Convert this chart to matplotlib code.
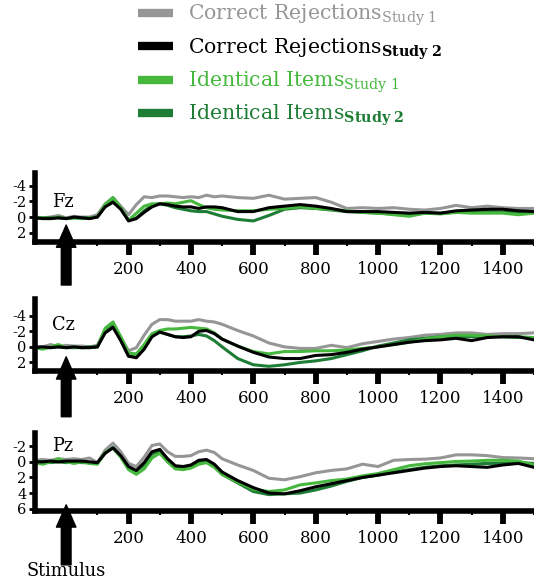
import numpy as np
import matplotlib
matplotlib.use('Agg')
import matplotlib.pyplot as plt
from matplotlib.lines import Line2D
from matplotlib.ticker import FixedLocator

plt.rcParams['font.family'] = 'DejaVu Serif'
plt.rcParams['mathtext.fontset'] = 'dejavuserif'
plt.rcParams['axes.unicode_minus'] = False

# time axis (ms)
times = [-100, -75, -50, -25, 0, 25, 50, 75, 100, 125, 150, 175, 200, 225, 250,
         275, 300, 325, 350, 375, 400, 425, 450, 475, 500,
         550, 600, 650, 700, 750, 800, 850, 900, 950, 1000, 1050, 1100, 1150,
         1200, 1250, 1300, 1350, 1400, 1450, 1500]

# Fz (microvolts, negative up)
fz_cr1 = [0.0, 0.1, 0.0, -0.2, 0.1, -0.1, 0.0, 0.0, -0.3, -1.7, -2.5, -1.4, -0.3, -1.6, -2.6,
          -2.5, -2.7, -2.7, -2.6, -2.5, -2.6, -2.5, -2.8, -2.6, -2.7,
          -2.5, -2.4, -2.8, -2.3, -2.4, -2.5, -1.9, -1.1, -1.2, -1.1, -1.2, -1.0, -0.9,
          -1.1, -1.5, -1.2, -1.4, -1.2, -1.1, -1.1]
fz_cr2 = [0.1, 0.2, 0.2, 0.1, 0.2, 0.0, 0.1, 0.2, 0.0, -1.3, -1.9, -1.0, 0.5, 0.2, -0.6,
          -1.3, -1.7, -1.6, -1.4, -1.3, -1.3, -1.1, -1.3, -1.3, -1.2,
          -0.7, -0.7, -1.2, -1.4, -1.6, -1.4, -1.1, -0.7, -0.7, -0.7, -0.6, -0.5, -0.6,
          -0.5, -0.8, -0.9, -1.0, -1.0, -0.8, -0.7]
fz_id1 = [0.1, 0.1, 0.2, 0.0, 0.2, 0.1, 0.2, 0.1, 0.0, -1.6, -2.5, -1.2, 0.4, -0.5, -1.4,
          -1.7, -1.7, -1.8, -1.7, -1.9, -2.1, -1.6, -1.2, -1.0, -0.9,
          -0.8, -0.8, -1.0, -1.1, -1.3, -1.1, -1.0, -0.8, -0.6, -0.5, -0.3, -0.1, -0.5,
          -0.4, -0.6, -0.5, -0.5, -0.5, -0.3, -0.5]
fz_id2 = [0.1, 0.1, 0.1, 0.1, 0.2, 0.1, 0.1, 0.1, 0.0, -1.5, -2.3, -1.1, 0.4, 0.1, -0.8,
          -1.5, -1.7, -1.5, -1.2, -1.0, -0.8, -0.7, -0.7, -0.4, -0.1,
          0.3, 0.5, -0.2, -1.0, -1.2, -1.1, -0.9, -0.7, -0.6, -0.5, -0.4, -0.3, -0.5,
          -0.5, -0.6, -0.6, -0.7, -0.6, -0.6, -0.6]

# Cz
cz_cr1 = [-0.1, 0.0, -0.3, 0.0, -0.2, -0.1, -0.1, 0.0, -0.2, -2.2, -3.0, -1.2, 0.5, 0.1, -1.5,
          -2.9, -3.5, -3.5, -3.3, -3.3, -3.3, -3.5, -3.3, -3.2, -2.9,
          -2.1, -1.4, -0.5, 0.0, 0.2, 0.2, -0.2, 0.1, -0.4, -0.7, -1.0, -1.2, -1.5,
          -1.6, -1.8, -1.8, -1.6, -1.7, -1.7, -1.8]
cz_cr2 = [0.1, 0.0, 0.1, 0.0, 0.1, 0.0, 0.1, 0.1, 0.0, -1.8, -2.5, -0.8, 1.2, 1.4, 0.3,
          -1.3, -1.9, -1.6, -1.3, -1.2, -1.3, -2.0, -2.1, -1.7, -1.0,
          -0.1, 0.7, 1.3, 1.5, 1.5, 1.1, 1.0, 0.7, 0.3, 0.0, -0.3, -0.6, -0.8,
          -0.9, -1.1, -0.8, -1.2, -1.3, -1.3, -0.9]
cz_id1 = [0.1, 0.3, 0.0, -0.3, 0.1, 0.0, 0.1, 0.1, 0.0, -2.4, -3.2, -1.3, 0.8, 0.9, -0.3,
          -1.7, -2.1, -2.3, -2.3, -2.4, -2.5, -2.4, -2.3, -1.8, -1.0,
          -0.1, 0.6, 0.9, 0.6, 0.6, 0.5, 0.5, 0.4, 0.2, 0.0, -0.3, -0.6, -1.0,
          -1.3, -1.5, -1.5, -1.4, -1.3, -1.3, -1.2]
cz_id2 = [0.1, 0.1, 0.1, 0.0, 0.1, 0.1, 0.1, 0.0, 0.0, -2.0, -2.7, -0.9, 1.2, 1.3, 0.2,
          -1.4, -1.9, -1.6, -1.3, -1.3, -1.4, -1.6, -1.4, -0.8, 0.0,
          1.5, 2.3, 2.5, 2.3, 2.0, 1.8, 1.5, 1.0, 0.5, -0.1, -0.5, -0.9, -1.1,
          -1.3, -1.3, -1.3, -1.3, -1.3, -1.2, -1.2]

# Pz
pz_cr1 = [-0.2, -0.3, -0.2, -0.4, -0.3, -0.4, -0.3, -0.5, 0.1, -1.5, -2.4, -1.3, 0.2, 0.6, -0.6,
          -2.1, -2.3, -1.3, -0.7, -0.7, -0.8, -1.3, -1.5, -1.2, -0.4,
          0.4, 1.1, 2.1, 2.3, 1.9, 1.4, 1.1, 0.9, 0.3, 0.6, -0.2, -0.3, -0.35,
          -0.5, -0.9, -0.9, -0.8, -0.55, -0.5, -0.4]
pz_cr2 = [0.0, 0.0, -0.1, 0.0, -0.1, -0.1, -0.1, 0.0, 0.1, -1.1, -1.8, -0.8, 0.6, 1.1, 0.1,
          -1.3, -1.6, -0.4, 0.5, 0.6, 0.4, -0.2, -0.3, 0.3, 1.3,
          2.4, 3.3, 4.0, 4.1, 3.7, 3.2, 2.8, 2.4, 2.0, 1.7, 1.4, 1.1, 0.8,
          0.6, 0.5, 0.6, 0.7, 0.4, 0.2, 0.7]
pz_id1 = [0.1, 0.3, 0.0, -0.4, 0.0, 0.2, 0.0, 0.2, 0.3, -1.2, -1.8, -0.6, 1.0, 1.6, 0.9,
          -0.5, -1.1, 0.0, 0.9, 1.0, 0.8, 0.3, 0.1, 0.7, 1.6,
          2.6, 3.5, 3.8, 3.6, 2.95, 2.7, 2.4, 2.2, 1.8, 1.5, 1.0, 0.5, 0.25,
          0.1, -0.05, -0.1, -0.2, -0.2, -0.1, 0.4]
pz_id2 = [0.0, 0.0, 0.1, 0.0, 0.1, 0.0, 0.1, 0.1, 0.2, -1.2, -1.8, -0.7, 0.8, 1.2, 0.4,
          -1.0, -1.4, -0.3, 0.6, 0.7, 0.5, 0.0, -0.2, 0.6, 1.6,
          2.7, 3.8, 4.2, 4.1, 4.0, 3.6, 3.1, 2.5, 2.0, 1.7, 1.3, 1.0, 0.7,
          0.5, 0.4, 0.3, 0.2, 0.2, 0.1, 0.2]

channels = ['Fz', 'Cz', 'Pz']
series = [[fz_cr1, fz_cr2, fz_id1, fz_id2],
          [cz_cr1, cz_cr2, cz_id1, cz_id2],
          [pz_cr1, pz_cr2, pz_id1, pz_id2]]
yticks = [[-4, -2, 0, 2], [-4, -2, 0, 2], [-2, 0, 2, 4, 6]]
ylims = [(3.2, -5.65), (3.1, -6.15), (6.3, -3.7)]
xticks_major = [200, 400, 600, 800, 1000, 1200, 1400]
xticks_minor = [100, 300, 500, 700, 900, 1100, 1300, 1500]

labels = [r'Correct Rejections$_{\mathrm{Study\ 1}}$',
          r'Correct Rejections$_{\mathbf{Study\ 2}}$',
          r'Identical Items$_{\mathrm{Study\ 1}}$',
          r'Identical Items$_{\mathbf{Study\ 2}}$']
colors = ['#969696', '#000000', '#46b83e', '#1e7d35']
draw_order = [0, 3, 2, 1]

W, H = 534, 588
fig = plt.figure(figsize=(W / 100, H / 100), dpi=100)

# panel extents in pixels (top, bottom), zero line pixel, label height
panels_px = [(173, 242), (299, 371), (433, 511)]
zero_px = [217, 347, 462]
tip_px = [225, 357, 505]
name_y = [-1.9, -2.8, -2.0]
px_per_uv = 7.8
left_px = 35
t = np.array(times)

for i, ch in enumerate(channels):
    top, bot = panels_px[i]
    ax = fig.add_axes([left_px / W, 1 - bot / H, (W - left_px) / W, (bot - top) / H])
    for k in draw_order:
        ax.plot(t, series[i][k], color=colors[k], lw=2.2, solid_joinstyle='round')
    ax.set_xlim(-100, 1500)
    ax.set_ylim(*ylims[i])
    ax.set_yticks(yticks[i])
    ax.set_yticklabels([str(v) for v in yticks[i]], fontsize=10.5)
    ax.xaxis.set_major_locator(FixedLocator(xticks_major))
    ax.xaxis.set_minor_locator(FixedLocator(xticks_minor))
    ax.set_xticklabels([str(v) for v in xticks_major], fontsize=12)
    ax.tick_params(axis='x', which='major', length=9, width=4.2, pad=5)
    ax.tick_params(axis='x', which='minor', length=3, width=1.5)
    ax.tick_params(axis='y', length=4, width=2, pad=2)
    for s in ['top', 'right']:
        ax.spines[s].set_visible(False)
    for s in ['left', 'bottom']:
        ax.spines[s].set_linewidth(4)
    ax.patch.set_alpha(0)
    ax.text(-10, name_y[i], ch, fontsize=12.8, ha='center', va='center')
    # stimulus arrow
    tip = (tip_px[i] - zero_px[i]) / px_per_uv
    tail = tip + 60 / px_per_uv
    ax.annotate('', xy=(0, tip), xytext=(0, tail), annotation_clip=False,
                arrowprops=dict(arrowstyle='simple,head_length=1.6,head_width=1.4,tail_width=0.7',
                                color='black', shrinkA=0, shrinkB=0, mutation_scale=10))
    if i == 2:
        ax.text(0, tail + 0.75, 'Stimulus', fontsize=12.9, ha='center', va='center')

handles = [Line2D([], [], color=c, lw=6, solid_capstyle='butt') for c in colors]
fig.legend(handles, labels, loc='upper left', bbox_to_anchor=(138 / W, 1 - 3 / H),
           frameon=False, fontsize=14.7, borderpad=0, borderaxespad=0,
           handlelength=1.72, handletextpad=0.74, labelspacing=0.38,
           labelcolor='linecolor')

fig.savefig('out.png', dpi=100)
